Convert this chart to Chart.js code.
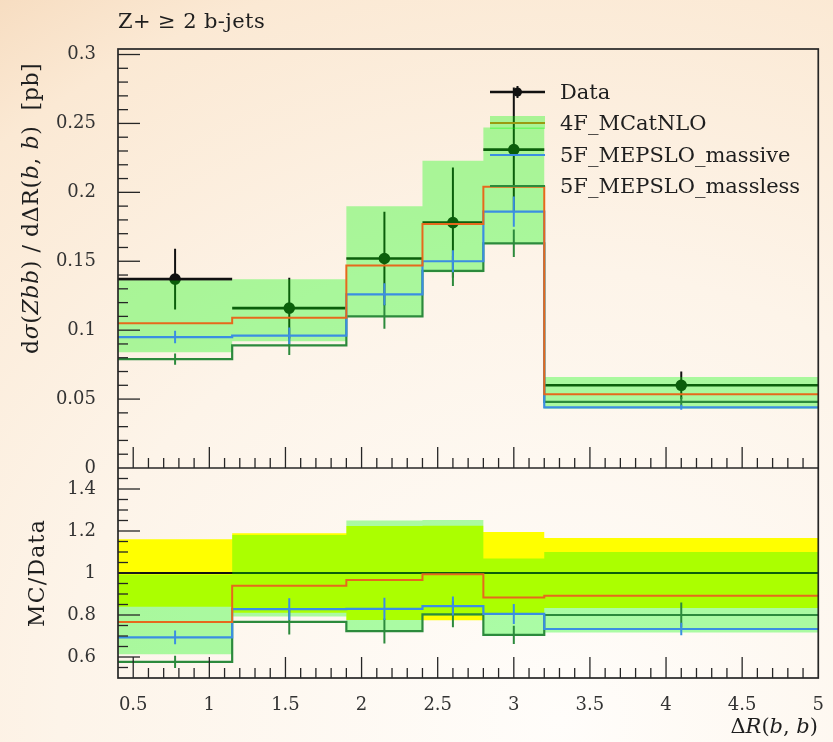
<!DOCTYPE html>
<html>
<head>
<meta charset="utf-8">
<script src="https://cdn.jsdelivr.net/npm/chart.js@4.4.1/dist/chart.umd.min.js"></script>
<style>
  html, body { margin: 0; padding: 0; }
  body {
    width: 833px; height: 742px; overflow: hidden;
    background: radial-gradient(ellipse 1000px 900px at 560px 720px,
      #fffdfa 0%, #fdf4e9 50%, #fbe9d4 85%, #f6dbbe 100%);
  }
  #wrap { position: relative; width: 833px; height: 742px; }
  canvas { display: block; }
</style>
</head>
<body>
<div id="wrap"><canvas id="chart" width="833" height="742"></canvas></div>
<script>
// Binning in ΔR(b,b) and measured / predicted differential cross sections [pb]
const binEdges    = [0.4, 1.15, 1.9, 2.4, 2.8, 3.2, 5.0];
const dataVals    = [0.137, 0.116, 0.152, 0.178, 0.231, 0.060];
const dataErr     = [0.022, 0.022, 0.034, 0.040, 0.045, 0.010];
const mcatnlo     = [0.105, 0.109, 0.147, 0.177, 0.204, 0.0535];
const mcatnloLo   = [0.084, 0.092, 0.110, 0.142, 0.163, 0.043];
const mcatnloHi   = [0.136, 0.137, 0.190, 0.223, 0.247, 0.066];
const massive     = [0.095, 0.096, 0.126, 0.150, 0.186, 0.044];
const massiveErr  = [0.0045, 0.006, 0.008, 0.008, 0.011, 0.0018];
const massless    = [0.079, 0.089, 0.110, 0.143, 0.163, 0.048];
const masslessErr = [0.004, 0.007, 0.009, 0.011, 0.010, 0.0036];

const xTickLabels     = ['0.5', '1', '1.5', '2', '2.5', '3', '3.5', '4', '4.5', '5'];
const yTickLabels     = ['0', '0.05', '0.1', '0.15', '0.2', '0.25', '0.3'];
const ratioTickLabels = ['0.6', '0.8', '1', '1.2', '1.4'];
const legendLabels    = ['Data', '4F_MCatNLO', '5F_MEPSLO_massive', '5F_MEPSLO_massless'];

const xTicks = xTickLabels.map(Number);
const yTicks = yTickLabels.map(Number);
const ratioTicks = ratioTickLabels.map(Number);

// Colours
const C_DATA = '#111111';
const C_NLO = '#e6691c';
const C_MASSIVE = '#3b8ee2';
const C_MASSLESS = '#2c8a3c';
const C_BAND = 'rgba(0, 255, 0, 0.33)';
const C_YELLOW = '#ffff00';
const SERIF = '"DejaVu Serif", "Liberation Serif", serif';

const centers = binEdges.slice(0, -1).map((e, i) => (e + binEdges[i + 1]) / 2);
const ones = dataVals.map(() => 1);

// Histogram outline points: one per left edge plus the final right edge
function stepPts(vals) {
  const p = vals.map((v, i) => ({ x: binEdges[i], y: v }));
  p.push({ x: binEdges[vals.length], y: vals[vals.length - 1] });
  return p;
}
// Separate horizontal bars across each bin
function hBars(vals) {
  const p = [];
  vals.forEach((v, i) => p.push({ x: binEdges[i], y: v }, { x: binEdges[i + 1], y: v }, { x: binEdges[i + 1], y: null }));
  return p;
}
// Vertical error bars at bin centres
function vBars(vals, errs) {
  const p = [];
  vals.forEach((v, i) => p.push({ x: centers[i], y: v - errs[i] }, { x: centers[i], y: v + errs[i] }, { x: centers[i], y: null }));
  return p;
}
const over = (arr, ref) => arr.map((v, i) => v / ref[i]);

const STEP = 'before'; // horizontal at the current value, then vertical to the next
const datasets = [];
function add(ds) { datasets.push(Object.assign({ pointRadius: 0, borderWidth: 2, fill: false, tension: 0, spanGaps: false, borderCapStyle: 'butt' }, ds)); return datasets.length - 1; }

// ---- Main panel ----
add({ label: 'data-x', data: hBars(dataVals), borderColor: C_DATA, borderWidth: 2.6, yAxisID: 'y', order: 100 });
add({ label: 'data-err', data: vBars(dataVals, dataErr), borderColor: C_DATA, borderWidth: 2, yAxisID: 'y', order: 99 });
add({ label: 'data-pts', data: dataVals.map((v, i) => ({ x: centers[i], y: v })), showLine: false, pointRadius: 4.8,
      pointBackgroundColor: C_DATA, pointBorderColor: C_DATA, borderColor: C_DATA, yAxisID: 'y', order: 98 });
const iBandLo = add({ label: 'nlo-lo', data: stepPts(mcatnloLo), stepped: STEP, borderWidth: 0, borderColor: 'rgba(0,0,0,0)', yAxisID: 'y', order: 90 });
add({ label: 'nlo-hi', data: stepPts(mcatnloHi), stepped: STEP, borderWidth: 0, borderColor: 'rgba(0,0,0,0)',
      fill: { target: iBandLo }, backgroundColor: C_BAND, yAxisID: 'y', order: 89 });
add({ label: 'massless', data: stepPts(massless), stepped: STEP, borderColor: C_MASSLESS, borderWidth: 2.2, yAxisID: 'y', order: 80 });
add({ label: 'massless-err', data: vBars(massless, masslessErr), borderColor: C_MASSLESS, yAxisID: 'y', order: 79 });
add({ label: 'massive', data: stepPts(massive), stepped: STEP, borderColor: C_MASSIVE, borderWidth: 2.2, yAxisID: 'y', order: 78 });
add({ label: 'massive-err', data: vBars(massive, massiveErr), borderColor: C_MASSIVE, yAxisID: 'y', order: 77 });
add({ label: 'nlo', data: stepPts(mcatnlo), stepped: STEP, borderColor: C_NLO, borderWidth: 2, yAxisID: 'y', order: 76 });

// ---- Ratio panel ----
const dataRelErr = over(dataErr, dataVals);
const iYelLo = add({ label: 'r-data-lo', data: stepPts(dataRelErr.map(e => 1 - e)), stepped: STEP, borderWidth: 0, borderColor: 'rgba(0,0,0,0)', yAxisID: 'yr', order: 70 });
add({ label: 'r-data-hi', data: stepPts(dataRelErr.map(e => 1 + e)), stepped: STEP, borderWidth: 0, borderColor: 'rgba(0,0,0,0)',
      fill: { target: iYelLo }, backgroundColor: C_YELLOW, yAxisID: 'yr', order: 69 });
add({ label: 'r-one', data: stepPts(ones), stepped: STEP, borderColor: C_DATA, borderWidth: 2, yAxisID: 'yr', order: 68 });
const iRBandLo = add({ label: 'r-nlo-lo', data: stepPts(over(mcatnloLo, dataVals)), stepped: STEP, borderWidth: 0, borderColor: 'rgba(0,0,0,0)', yAxisID: 'yr', order: 66 });
add({ label: 'r-nlo-hi', data: stepPts(over(mcatnloHi, dataVals)), stepped: STEP, borderWidth: 0, borderColor: 'rgba(0,0,0,0)',
      fill: { target: iRBandLo }, backgroundColor: C_BAND, yAxisID: 'yr', order: 65 });
add({ label: 'r-massless', data: stepPts(over(massless, dataVals)), stepped: STEP, borderColor: C_MASSLESS, borderWidth: 2.2, yAxisID: 'yr', order: 60 });
add({ label: 'r-massless-err', data: vBars(over(massless, dataVals), over(masslessErr, dataVals)), borderColor: C_MASSLESS, yAxisID: 'yr', order: 59 });
add({ label: 'r-massive', data: stepPts(over(massive, dataVals)), stepped: STEP, borderColor: C_MASSIVE, borderWidth: 2.2, yAxisID: 'yr', order: 58 });
add({ label: 'r-massive-err', data: vBars(over(massive, dataVals), over(massiveErr, dataVals)), borderColor: C_MASSIVE, yAxisID: 'yr', order: 57 });
add({ label: 'r-nlo', data: stepPts(over(mcatnlo, dataVals)), stepped: STEP, borderColor: C_NLO, borderWidth: 2, yAxisID: 'yr', order: 56 });

// Draw rich text (mixed roman / italic runs) horizontally or rotated
function richWidth(ctx, segs, size) {
  let w = 0;
  for (const s of segs) { ctx.font = (s.i ? 'italic ' : '') + size + 'px ' + SERIF; w += ctx.measureText(s.t).width; }
  return w;
}
function drawRich(ctx, segs, size, x, y, rotate, align, spacing) {
  ctx.save();
  ctx.letterSpacing = (spacing || 0) + 'px';
  const w = richWidth(ctx, segs, size);
  ctx.translate(x, y);
  if (rotate) ctx.rotate(-Math.PI / 2);
  let cx = align === 'right' ? -w : align === 'center' ? -w / 2 : 0;
  ctx.textAlign = 'left';
  ctx.textBaseline = 'alphabetic';
  for (const s of segs) {
    ctx.font = (s.i ? 'italic ' : '') + size + 'px ' + SERIF;
    ctx.fillText(s.t, cx, 0);
    cx += ctx.measureText(s.t).width;
  }
  ctx.restore();
}

// Frame, inward ticks, axis titles and legend
const decorations = {
  id: 'decorations',
  afterDatasetsDraw(chart) {
    const { ctx, chartArea: a, scales } = chart;
    const x = scales.x, y = scales.y, yr = scales.yr;
    ctx.save();
    ctx.strokeStyle = '#262626';
    ctx.lineWidth = 1.3;
    const seg = (x1, y1, x2, y2) => { ctx.beginPath(); ctx.moveTo(x1, y1); ctx.lineTo(x2, y2); ctx.stroke(); };

    for (const base of [y.bottom, yr.bottom]) {
      for (let k = 5; k <= 49; k++) {
        const px = x.getPixelForValue(k / 10);
        seg(px, base, px, base - (k % 5 === 0 ? 21 : 10));
      }
    }
    for (let k = 1; k <= 30; k++) {
      const py = y.getPixelForValue(k / 100);
      seg(y.right, py, y.right + (k % 5 === 0 ? 22 : 10), py);
    }
    for (let k = 11; k <= 29; k++) {
      const py = yr.getPixelForValue(k / 20);
      seg(yr.right, py, yr.right + (k % 4 === 0 ? 22 : 10), py);
    }

    ctx.lineWidth = 1.7;
    ctx.strokeRect(a.left, a.top, a.right - a.left, a.bottom - a.top);
    seg(a.left, y.bottom, a.right, y.bottom);

    // Legend
    const lx0 = 490, lx1 = 545, lxm = (lx0 + lx1) / 2, tx = 560;
    const ly = [92, 123, 155, 186];
    ctx.lineCap = 'butt';
    ctx.strokeStyle = C_DATA; ctx.lineWidth = 2.6; seg(lx0, ly[0], lx1, ly[0]);
    ctx.lineWidth = 2; seg(lxm, ly[0] - 6, lxm, ly[0] + 6);
    ctx.fillStyle = C_DATA; ctx.beginPath(); ctx.arc(lxm, ly[0], 4.5, 0, Math.PI * 2); ctx.fill();
    ctx.strokeStyle = C_NLO; ctx.lineWidth = 2; seg(lx0, ly[1], lx1, ly[1]);
    ctx.fillStyle = C_BAND; ctx.fillRect(lx0, ly[1] - 7, lx1 - lx0, 13);
    ctx.strokeStyle = C_MASSIVE; ctx.lineWidth = 2.2; seg(lx0, ly[2], lx1, ly[2]);
    ctx.strokeStyle = C_MASSLESS; ctx.lineWidth = 2.2; seg(lx0, ly[3], lx1, ly[3]);
    ctx.fillStyle = '#1e1e1e';
    ctx.font = '21px ' + SERIF;
    ctx.textBaseline = 'alphabetic';
    ctx.textAlign = 'left';
    legendLabels.forEach((t, i) => ctx.fillText(t, tx, ly[i] + 7));

    // Titles
    ctx.fillStyle = '#1e1e1e';
    drawRich(ctx, [{ t: 'Z+ ≥ 2 b-jets' }], 21, 118, 28, false, 'left', 0.4);
    drawRich(ctx, [
      { t: 'd' }, { t: 'σ', i: true }, { t: '(' }, { t: 'Zbb', i: true }, { t: ') / dΔR(' },
      { t: 'b', i: true }, { t: ', ' }, { t: 'b', i: true }, { t: ')  [pb]' }
    ], 22, 38, 354, true, 'left', 0.6);
    drawRich(ctx, [{ t: 'MC/Data' }], 22, 44, (yr.top + yr.bottom) / 2, true, 'center', 1.2);
    drawRich(ctx, [
      { t: 'Δ' }, { t: 'R', i: true }, { t: '(' }, { t: 'b', i: true }, { t: ', ' }, { t: 'b', i: true }, { t: ')' }
    ], 21, 818, 733, false, 'right');
    ctx.restore();
  }
};

const tickFont = { family: SERIF, size: 18 };

new Chart(document.getElementById('chart'), {
  type: 'line',
  data: { datasets },
  options: {
    responsive: false,
    animation: false,
    events: [],
    layout: { padding: { left: 0, right: 13, top: 49, bottom: 0 } },
    plugins: { legend: { display: false }, tooltip: { enabled: false }, title: { display: false } },
    scales: {
      x: {
        type: 'linear', min: 0.4, max: 5,
        grid: { display: false }, border: { display: false },
        afterBuildTicks: s => { s.ticks = xTicks.map(v => ({ value: v })); },
        ticks: { font: tickFont, color: '#333', padding: 9, maxRotation: 0, autoSkip: false,
                 callback: v => xTickLabels[xTicks.indexOf(v)] },
        afterFit: s => { s.height = 64; }
      },
      y: {
        type: 'linear', position: 'left', stack: 'panels', stackWeight: 419, weight: 2, min: 0, max: 0.304,
        grid: { display: false }, border: { display: false },
        afterBuildTicks: s => { s.ticks = yTicks.map(v => ({ value: v })); },
        ticks: { font: tickFont, color: '#333', padding: 14, autoSkip: false,
                 callback: v => yTickLabels[yTicks.indexOf(v)] },
        afterFit: s => { s.width = 118; }
      },
      yr: {
        type: 'linear', position: 'left', stack: 'panels', stackWeight: 210, weight: 1, min: 0.5, max: 1.5,
        grid: { display: false }, border: { display: false },
        afterBuildTicks: s => { s.ticks = ratioTicks.map(v => ({ value: v })); },
        ticks: { font: tickFont, color: '#333', padding: 14, autoSkip: false,
                 callback: v => ratioTickLabels[ratioTicks.indexOf(v)] },
        afterFit: s => { s.width = 118; }
      }
    }
  },
  plugins: [decorations]
});
</script>
</body>
</html>
